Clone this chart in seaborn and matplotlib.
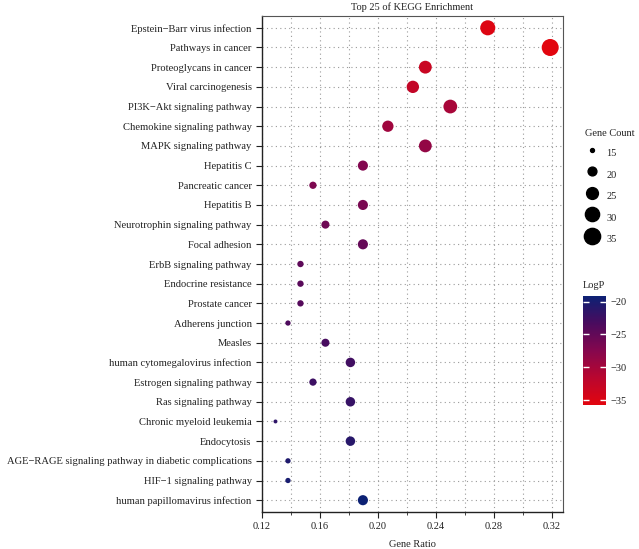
import numpy as np
import pandas as pd
import matplotlib
matplotlib.use("Agg")
import matplotlib.pyplot as plt
from matplotlib.colors import LinearSegmentedColormap, Normalize
from matplotlib.lines import Line2D
from matplotlib.ticker import MultipleLocator
import seaborn as sns

# pathways, top to bottom
pathways = [
    "Epstein−Barr virus infection", "Pathways in cancer", "Proteoglycans in cancer",
    "Viral carcinogenesis", "PI3K−Akt signaling pathway", "Chemokine signaling pathway",
    "MAPK signaling pathway", "Hepatitis C", "Pancreatic cancer", "Hepatitis B",
    "Neurotrophin signaling pathway", "Focal adhesion", "ErbB signaling pathway",
    "Endocrine resistance", "Prostate cancer", "Adherens junction", "Measles",
    "human cytomegalovirus infection", "Estrogen signaling pathway", "Ras signaling pathway",
    "Chronic myeloid leukemia", "Endocytosis",
    "AGE−RAGE signaling pathway in diabetic complications", "HIF−1 signaling pathway",
    "human papillomavirus infection",
]
gene_count = [32, 37, 27, 26, 29, 24, 27, 22, 18, 22, 19, 22, 17, 17, 17, 16, 19, 21, 18, 21,
              15, 21, 16, 16, 22]
gene_ratio = [c / 116 for c in gene_count]
log_p = [-35.2, -35.76, -33.2, -32.6, -30.2, -29.6, -28.6, -27.2, -26.9, -26.6, -25.8, -25.2,
         -24.7, -24.4, -24.1, -23.6, -23.2, -22.7, -22.4, -22.0, -21.5, -21.0, -20.5, -20.0,
         -19.15]

size_breaks = [15, 20, 25, 30, 35]

df = pd.DataFrame({"Pathway": pathways, "GeneRatio": gene_ratio,
                   "Count": gene_count, "LogP": log_p})
df["row"] = np.arange(len(df))

plt.rcParams["font.family"] = ["Liberation Serif", "DejaVu Serif"]
plt.rcParams["axes.unicode_minus"] = True

cmap = LinearSegmentedColormap.from_list(
    "logp", ["#e2050e", "#b9062f", "#85074e", "#4a0b5e", "#0c2174"])
norm = Normalize(vmin=min(log_p), vmax=max(log_p))
size_range = (8, 150)
size_norm = (15, 37)
fs = 7.5
ink = "#222222"


def size_of(c):
    return size_range[0] + (c - size_norm[0]) / (size_norm[1] - size_norm[0]) * (size_range[1] - size_range[0])


fig = plt.figure(figsize=(6.39, 5.49), dpi=100)
ax = fig.add_axes([262 / 639, 1 - 512 / 549, 301 / 639, 496 / 549])

sns.scatterplot(data=df, x="GeneRatio", y="row", hue="LogP", size="Count",
                palette=cmap, hue_norm=norm, sizes=size_range, size_norm=size_norm,
                edgecolor="none", linewidth=0, legend=False, ax=ax, zorder=3)

ax.set_xlim(0.12, 0.3278)
ax.set_ylim(len(df) - 0.4, -0.6)
ax.set_yticks(df["row"])
ax.set_yticklabels(pathways)
ax.xaxis.set_major_locator(MultipleLocator(0.04))
ax.xaxis.set_minor_locator(MultipleLocator(0.02))
ax.xaxis.set_major_formatter(lambda v, p: f"{v:.2f}")

ax.grid(True, which="both", axis="x", color="#9a9a9a", linestyle=(0, (1, 3)), linewidth=0.8)
ax.grid(True, which="major", axis="y", color="#9a9a9a", linestyle=(0, (1, 3)), linewidth=0.8)
ax.set_axisbelow(True)

for side in ["left", "bottom"]:
    ax.spines[side].set_color(ink)
    ax.spines[side].set_linewidth(1.0)
for side in ["top", "right"]:
    ax.spines[side].set_color("#555555")
    ax.spines[side].set_linewidth(0.8)

ax.tick_params(axis="both", which="major", direction="out", length=4, width=0.8,
               color=ink, labelsize=fs, labelcolor=ink)
ax.tick_params(axis="y", labelsize=7.6)
ax.tick_params(axis="x", which="minor", direction="out", length=2.5, width=0.6, color=ink)
ax.set_xlabel("Gene Ratio", fontsize=fs, labelpad=6, color=ink)
ax.set_ylabel("")
ax.set_title("Top 25 of KEGG Enrichment", fontsize=fs, pad=4, color=ink)

# size legend
fig.text(585 / 639, 1 - 133 / 549, "Gene Count", fontsize=fs, va="center", ha="left", color=ink)
handles = [Line2D([], [], linestyle="none", marker="o", color="black",
                  markersize=np.sqrt(size_of(c))) for c in size_breaks]
leg = fig.legend(handles, [str(c) for c in size_breaks],
                 loc="upper left", bbox_to_anchor=(585 / 639, 1 - 143 / 549),
                 frameon=False, fontsize=fs, handlelength=1.3,
                 handleheight=2.62, labelspacing=0.12, handletextpad=0.75,
                 borderaxespad=0, borderpad=0)
for t in leg.get_texts():
    t.set_color(ink)

# colorbar for LogP
cax = fig.add_axes([583 / 639, 1 - 405 / 549, 23 / 639, 109 / 549])
sm = plt.cm.ScalarMappable(norm=norm, cmap=cmap)
cb = fig.colorbar(sm, cax=cax)
cb.outline.set_visible(False)
cb.set_ticks([-35, -30, -25, -20])
cax.tick_params(direction="in", length=4, width=1, color="white", left=True, right=True,
                labelsize=fs, labelcolor=ink)
cax.set_title("LogP", fontsize=fs, loc="left", pad=6, color=ink)

fig.savefig("out.png", dpi=100)
